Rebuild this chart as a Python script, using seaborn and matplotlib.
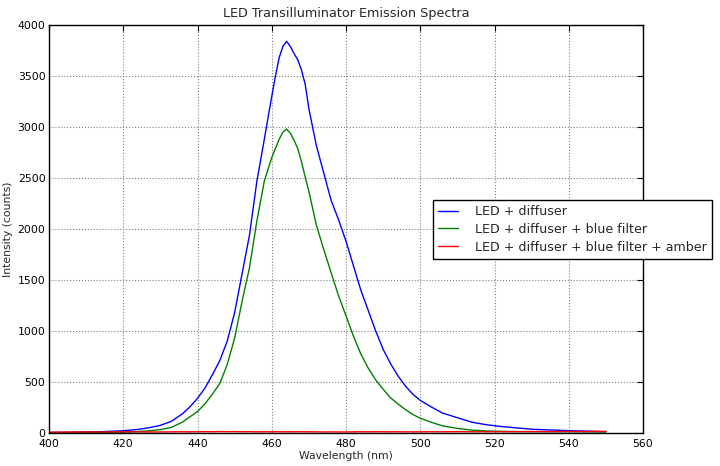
import pandas as pd
import matplotlib
matplotlib.use("Agg")
import matplotlib.pyplot as plt
import seaborn as sns

# wavelength grid (nm)
wavelength = [400, 405, 410, 415, 420, 424, 427, 430, 433, 436, 438, 440, 442, 444,
              446, 448, 450, 452, 454, 456, 458, 460, 461, 462, 463, 464, 465, 466,
              467, 468, 469, 470, 472, 474, 476, 478, 480, 482, 484, 486, 488, 490,
              492, 494, 496, 498, 500, 503, 506, 510, 514, 518, 522, 526, 530, 535,
              540, 545, 550]

led_diffuser = [5, 7, 10, 14, 22, 35, 52, 75, 115, 190, 258, 340, 440, 570,
                710, 900, 1180, 1560, 1940, 2470, 2880, 3300, 3500, 3680, 3790, 3840, 3790, 3720,
                3660, 3560, 3420, 3180, 2820, 2550, 2280, 2090, 1880, 1640, 1400, 1200, 1000, 820,
                680, 560, 460, 380, 320, 255, 195, 150, 105, 80, 63, 50, 37, 30,
                23, 18, 13]

led_blue_filter = [3, 4, 5, 6, 8, 14, 22, 33, 55, 108, 160, 210, 285, 380,
                   485, 670, 930, 1290, 1620, 2080, 2470, 2700, 2790, 2880, 2950, 2980, 2940, 2870,
                   2790, 2660, 2510, 2370, 2040, 1800, 1570, 1345, 1150, 950, 775, 635, 520, 430,
                   345, 285, 230, 182, 144, 105, 70, 45, 28, 20, 16, 14, 13, 12,
                   12, 11, 10]

led_amber = [8, 9, 10, 9, 12, 11, 10, 10, 11, 12, 11, 12, 13, 12,
             14, 13, 14, 12, 13, 11, 12, 11, 12, 12, 11, 12, 12, 11,
             12, 12, 11, 12, 11, 10, 11, 10, 10, 11, 12, 11, 12, 12,
             11, 12, 11, 11, 11, 12, 12, 13, 12, 12, 12, 13, 14, 14,
             15, 15, 16]

labels = ["LED + diffuser",
          "LED + diffuser + blue filter",
          "LED + diffuser + blue filter + amber"]

sns.set_style("white")
plt.rcParams["font.family"] = ["DejaVu Sans"]

fig = plt.figure(figsize=(7.2, 4.66), dpi=100)
ax = fig.add_axes([49 / 720, 33 / 466, 594 / 720, 408 / 466])

sns.lineplot(x=wavelength, y=led_diffuser, color="#0000ff", lw=1, label=labels[0], ax=ax)
sns.lineplot(x=wavelength, y=led_blue_filter, color="#008000", lw=1, label=labels[1], ax=ax)
sns.lineplot(x=wavelength, y=led_amber, color="#ff0000", lw=1, label=labels[2], ax=ax)

ax.set_xlim(400, 560)
ax.set_ylim(0, 4000)
ax.set_xticks(range(400, 561, 20))
ax.set_yticks(range(0, 4001, 500))
ax.grid(True, linestyle=":", color="#808080", linewidth=0.8)
for s in ax.spines.values():
    s.set_color("black")
    s.set_linewidth(1)
ax.tick_params(direction="in", length=4, width=0.8, color="black",
               top=True, right=True, labelsize=7.8, labelcolor="black")
ax.tick_params(axis="x", pad=4)
ax.tick_params(axis="y", pad=2.5)

ax.set_title("LED Transilluminator Emission Spectra", fontsize=9.2, pad=6)
ax.set_xlabel("Wavelength (nm)", fontsize=7.8, labelpad=2)
ax.set_ylabel("Intensity (counts)", fontsize=7.8, labelpad=3)

leg = ax.legend(loc="upper left", bbox_to_anchor=(433 / 720, 1 - 200 / 466),
                bbox_transform=fig.transFigure, borderaxespad=0, fontsize=9.1,
                fancybox=False, frameon=True, framealpha=1, handlelength=1.6,
                handletextpad=1.35, borderpad=0.4, labelspacing=0.38)
leg.get_frame().set_edgecolor("black")
leg.get_frame().set_linewidth(1)

fig.savefig("out.png", dpi=100, facecolor="white")
